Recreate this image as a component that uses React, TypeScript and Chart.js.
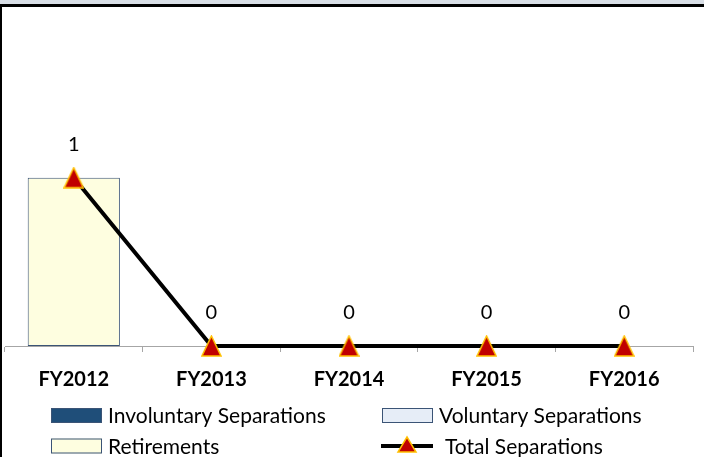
import React, { useEffect, useRef } from "react";
import { Chart, registerables } from "chart.js";

Chart.register(...registerables);

const categories = ["FY2012", "FY2013", "FY2014", "FY2015", "FY2016"];
const involuntarySeparations = [0, 0, 0, 0, 0];
const voluntarySeparations = [0, 0, 0, 0, 0];
const retirements = [1, 0, 0, 0, 0];
const totalSeparations = [1, 0, 0, 0, 0];
const yMax = 1.2;

const FONT = "Lato, 'Open Sans', sans-serif";

const COLORS = {
  involuntary: "#1f4e79",
  voluntary: "#e6edf7",
  retire: "#fefee0",
  barBorder: "#3b5476",
  point: "#c00000",
  pointBorder: "#ffc000",
};

function makeTriangle(w: number, h: number) {
  const c = document.createElement("canvas");
  c.width = w + 2;
  c.height = h + 2;
  const g = c.getContext("2d")!;
  g.beginPath();
  g.moveTo(1 + w / 2, 1);
  g.lineTo(1 + w, 1 + h);
  g.lineTo(1, 1 + h);
  g.closePath();
  g.fillStyle = COLORS.point;
  g.fill();
  g.strokeStyle = COLORS.pointBorder;
  g.lineWidth = 1.5;
  g.lineJoin = "miter";
  g.stroke();
  return c;
}

const framePlugin = {
  id: "frame",
  beforeDraw(chart: any) {
    const { ctx, width, height } = chart;
    ctx.save();
    ctx.fillStyle = "#ffffff";
    ctx.fillRect(0, 0, width, height);
    ctx.restore();
  },
  afterDraw(chart: any) {
    const { ctx, width, height } = chart;
    ctx.save();
    ctx.fillStyle = "#d8dee6";
    ctx.fillRect(0, 0, width, 4);
    ctx.fillStyle = "#000000";
    ctx.fillRect(0, 4, width, 3);
    ctx.fillRect(0, 4, 2, height - 4);
    ctx.restore();
  },
};

const labelPlugin = {
  id: "pointLabels",
  afterDatasetsDraw(chart: any) {
    const { ctx } = chart;
    const meta = chart.getDatasetMeta(3);
    const ds = chart.data.datasets[3];
    ctx.save();
    ctx.font = `20px ${FONT}`;
    ctx.fillStyle = "#000000";
    ctx.textAlign = "center";
    ctx.textBaseline = "alphabetic";
    meta.data.forEach((pt: any, i: number) => {
      ctx.fillText(String(ds.data[i]), pt.x, pt.y - 27);
    });
    ctx.restore();
  },
};

const legendPlugin = {
  id: "customLegend",
  afterDraw(chart: any) {
    const { ctx } = chart;
    const ds = chart.data.datasets;
    ctx.save();
    ctx.font = `21px ${FONT}`;
    ctx.textBaseline = "alphabetic";
    ctx.textAlign = "left";
    const row1 = 415.5;
    const row2 = 446;
    const boxes = [
      { d: ds[0], x: 51, y: row1 },
      { d: ds[1], x: 382, y: row1 },
      { d: ds[2], x: 51, y: row2 },
    ];
    boxes.forEach((b) => {
      ctx.fillStyle = b.d.backgroundColor;
      ctx.fillRect(b.x, b.y - 7.5, 51, 15);
      ctx.strokeStyle = COLORS.barBorder;
      ctx.lineWidth = 1;
      ctx.strokeRect(b.x + 0.5, b.y - 7, 50, 14);
      ctx.fillStyle = "#000000";
      ctx.fillText(b.d.label, b.x + 57, b.y + 7.5);
    });
    // line entry
    const lx = 381;
    const ly = row2;
    ctx.strokeStyle = "#000000";
    ctx.lineWidth = 4;
    ctx.beginPath();
    ctx.moveTo(lx, ly);
    ctx.lineTo(lx + 52, ly);
    ctx.stroke();
    const cx = lx + 26;
    ctx.beginPath();
    ctx.moveTo(cx, ly - 9);
    ctx.lineTo(cx + 9, ly + 6);
    ctx.lineTo(cx - 9, ly + 6);
    ctx.closePath();
    ctx.fillStyle = COLORS.point;
    ctx.fill();
    ctx.strokeStyle = COLORS.pointBorder;
    ctx.lineWidth = 1.5;
    ctx.stroke();
    ctx.fillStyle = "#000000";
    ctx.fillText(ds[3].label, 445, ly + 7.5);
    ctx.restore();
  },
};

export default function App() {
  const canvasRef = useRef<HTMLCanvasElement>(null);

  useEffect(() => {
    document.body.style.margin = "0";
    const canvas = canvasRef.current;
    if (!canvas) return;
    const bw = (c: any) => (c.raw === 0 ? 0 : 1);
    const tri = makeTriangle(19, 20);
    const chart = new Chart(canvas, {
      type: "bar",
      data: {
        labels: categories,
        datasets: [
          {
            label: "Involuntary Separations",
            data: involuntarySeparations,
            backgroundColor: COLORS.involuntary,
            borderColor: COLORS.barBorder,
            borderWidth: bw,
            borderSkipped: false,
            order: 2,
          } as any,
          {
            label: "Voluntary Separations",
            data: voluntarySeparations,
            backgroundColor: COLORS.voluntary,
            borderColor: COLORS.barBorder,
            borderWidth: bw,
            borderSkipped: false,
            order: 2,
          },
          {
            label: "Retirements",
            data: retirements,
            backgroundColor: COLORS.retire,
            borderColor: COLORS.barBorder,
            borderWidth: bw,
            borderSkipped: false,
            order: 2,
          },
          {
            type: "line",
            label: "Total Separations",
            data: totalSeparations,
            stack: "total",
            borderColor: "#000000",
            borderWidth: 4,
            pointStyle: tri,
            pointRadius: 10,
            pointHoverRadius: 10,
            pointBackgroundColor: COLORS.point,
            pointBorderColor: COLORS.pointBorder,
            pointBorderWidth: 1.5,
            tension: 0,
            clip: false,
            order: 0,
          } as any,
        ],
      },
      options: {
        animation: false,
        responsive: false,
        maintainAspectRatio: false,
        layout: {
          autoPadding: false,
          padding: { left: 5, right: 11, top: 144, bottom: 49 },
        },
        plugins: {
          legend: { display: false },
          tooltip: { enabled: false },
          title: { display: false },
        },
        datasets: {
          bar: { categoryPercentage: 1, barPercentage: 0.67 },
        },
        scales: {
          x: {
            stacked: true,
            afterFit: (scale: any) => {
              scale.paddingLeft = 0;
              scale.paddingRight = 0;
            },
            grid: {
              offset: true,
              drawOnChartArea: false,
              drawTicks: true,
              tickLength: 6,
              color: "#a6a6a6",
            },
            border: { color: "#a6a6a6", width: 1 },
            ticks: {
              color: "#000000",
              padding: 16,
              font: { family: FONT, size: 20, weight: "bold" },
            },
          },
          y: {
            stacked: true,
            display: false,
            min: 0,
            max: yMax,
          },
        },
      },
      plugins: [framePlugin, labelPlugin, legendPlugin],
    });
    return () => chart.destroy();
  }, []);

  return (
    <div style={{ width: 704, height: 457 }}>
      <canvas ref={canvasRef} width={704} height={457} style={{ display: "block" }} />
    </div>
  );
}
